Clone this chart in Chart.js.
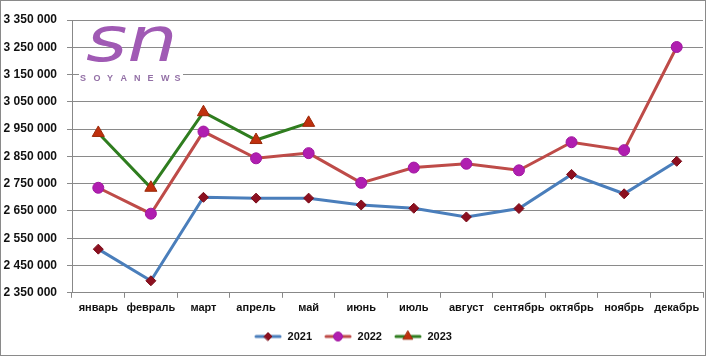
<!DOCTYPE html>
<html><head><meta charset="utf-8">
<script src="https://cdn.jsdelivr.net/npm/chart.js@4/dist/chart.umd.min.js"></script>
<style>html,body{margin:0;padding:0;background:#fff}#wrap{width:706px;height:356px;position:relative}</style>
</head><body><div id="wrap"><canvas id="c" width="706" height="356"></canvas></div>
<script>
const months = ['январь','февраль','март','апрель','май','июнь','июль','август','сентябрь','октябрь','ноябрь','декабрь'];
const seriesNames = ['2021','2022','2023'];
const values2021 = [2510000, 2394000, 2700000, 2697000, 2697000, 2672000, 2660000, 2628000, 2659000, 2784000, 2713000, 2832000];
const values2022 = [2735000, 2640000, 2941000, 2843000, 2862000, 2753000, 2809000, 2823000, 2799000, 2902000, 2873000, 3251000];
const values2023 = [2936000, 2735000, 3012000, 2910000, 2973000, null, null, null, null, null, null, null];
const yMin = 2350000, yMax = 3350000, yStep = 100000;

const styles = [
  {line:'#4a7ebb', fill:'#8c1020', border:'#7a0c18', shape:'rectRot', r:5, lr:4},
  {line:'#be4b48', fill:'#b01eb0', border:'#a018a0', shape:'circle', r:5.5, lr:4.5},
  {line:'#2f7d1f', fill:'#c0300e', border:'#9a2a0a', shape:'triangle', r:7, lr:5.5}
];

function fmt(v){ return String(v).replace(/\B(?=(\d{3})+(?!\d))/g,' '); }

function makeIcon(s){
  const c = document.createElement('canvas');
  c.width = 28; c.height = 14;
  const x = c.getContext('2d');
  x.strokeStyle = s.line; x.lineWidth = 3; x.lineCap='round';
  x.beginPath(); x.moveTo(2,7); x.lineTo(26,7); x.stroke();
  x.fillStyle = s.fill; x.strokeStyle = s.border; x.lineWidth = 1;
  Chart.helpers.drawPoint(x, {pointStyle:s.shape, radius:s.lr, borderWidth:1}, 14, 7);
  return c;
}

const logoPlugin = {
  id:'logo',
  beforeDatasetsDraw(chart){
    const ctx = chart.ctx;
    ctx.save();
    ctx.fillStyle = '#a05ab4';
    ctx.font = 'italic 62px "DejaVu Sans"';
    ctx.textBaseline = 'alphabetic';
    ctx.save();
    ctx.translate(86, 61);
    ctx.scale(1.28, 1);
    ctx.fillText('sn', 0, 0);
    ctx.restore();
    ctx.fillStyle = '#fff';
    ctx.fillRect(79, 71, 104, 11);
    ctx.fillStyle = '#9370a6';
    ctx.font = 'bold 9px "Liberation Sans"';
    const letters = 'SOYANEWS'.split('');
    letters.forEach((l,i)=>{ ctx.fillText(l, 80 + i*13.5, 80.5); });
    ctx.restore();
  },
  afterDraw(chart){
    const ctx = chart.ctx;
    ctx.save();
    ctx.strokeStyle = '#8a8a8a'; ctx.lineWidth = 1;
    ctx.strokeRect(0.5, 0.5, 705, 355);
    ctx.restore();
  }
};

const datasets = [values2021, values2022, values2023].map((d,i)=>({
  label: seriesNames[i],
  data: d,
  borderColor: styles[i].line,
  backgroundColor: styles[i].fill,
  pointBackgroundColor: styles[i].fill,
  pointBorderColor: styles[i].border,
  pointBorderWidth: 1,
  pointStyle: styles[i].shape,
  pointRadius: styles[i].r,
  pointHoverRadius: styles[i].r,
  borderWidth: 3,
  tension: 0,
  spanGaps: false
}));

const icons = styles.map(makeIcon);

new Chart(document.getElementById('c'), {
  type:'line',
  data:{labels: months, datasets},
  plugins:[logoPlugin],
  options:{
    responsive:false,
    animation:false,
    devicePixelRatio:1,
    layout:{autoPadding:false, padding:{left:3, right:3, top:20, bottom:4}},
    plugins:{
      tooltip:{enabled:false},
      legend:{
        position:'bottom',
        labels:{
          usePointStyle:true,
          pointStyleWidth:28,
          padding:12,
          color:'#111',
          font:{family:'"Liberation Sans"', size:11, weight:'bold'},
          generateLabels(chart){
            return chart.data.datasets.map((ds,i)=>({
              text: ds.label, pointStyle: icons[i], fillStyle:'#fff', strokeStyle:'#fff',
              lineWidth:0, hidden:false, datasetIndex:i, fontColor:'#111'
            }));
          }
        }
      }
    },
    scales:{
      x:{
        offset:true,
        grid:{offset:true, drawOnChartArea:false, color:'#888', tickLength:5},
        border:{color:'#888'},
        ticks:{color:'#111', padding:4, maxRotation:0, autoSkip:false, font:{family:'"Liberation Sans"', size:11, weight:'bold'}},
        afterFit(s){ s.paddingLeft = 0; s.paddingRight = 0; }
      },
      y:{
        min:yMin, max:yMax,
        grid:{color:'#8a8a8a', tickLength:5},
        border:{color:'#888'},
        ticks:{stepSize:yStep, color:'#111', padding:10, callback:v=>fmt(v), font:{family:'"Liberation Sans"', size:12, weight:'bold'}},
        afterFit(s){ s.width = 69; }
      }
    }
  }
});
</script>
</body></html>
